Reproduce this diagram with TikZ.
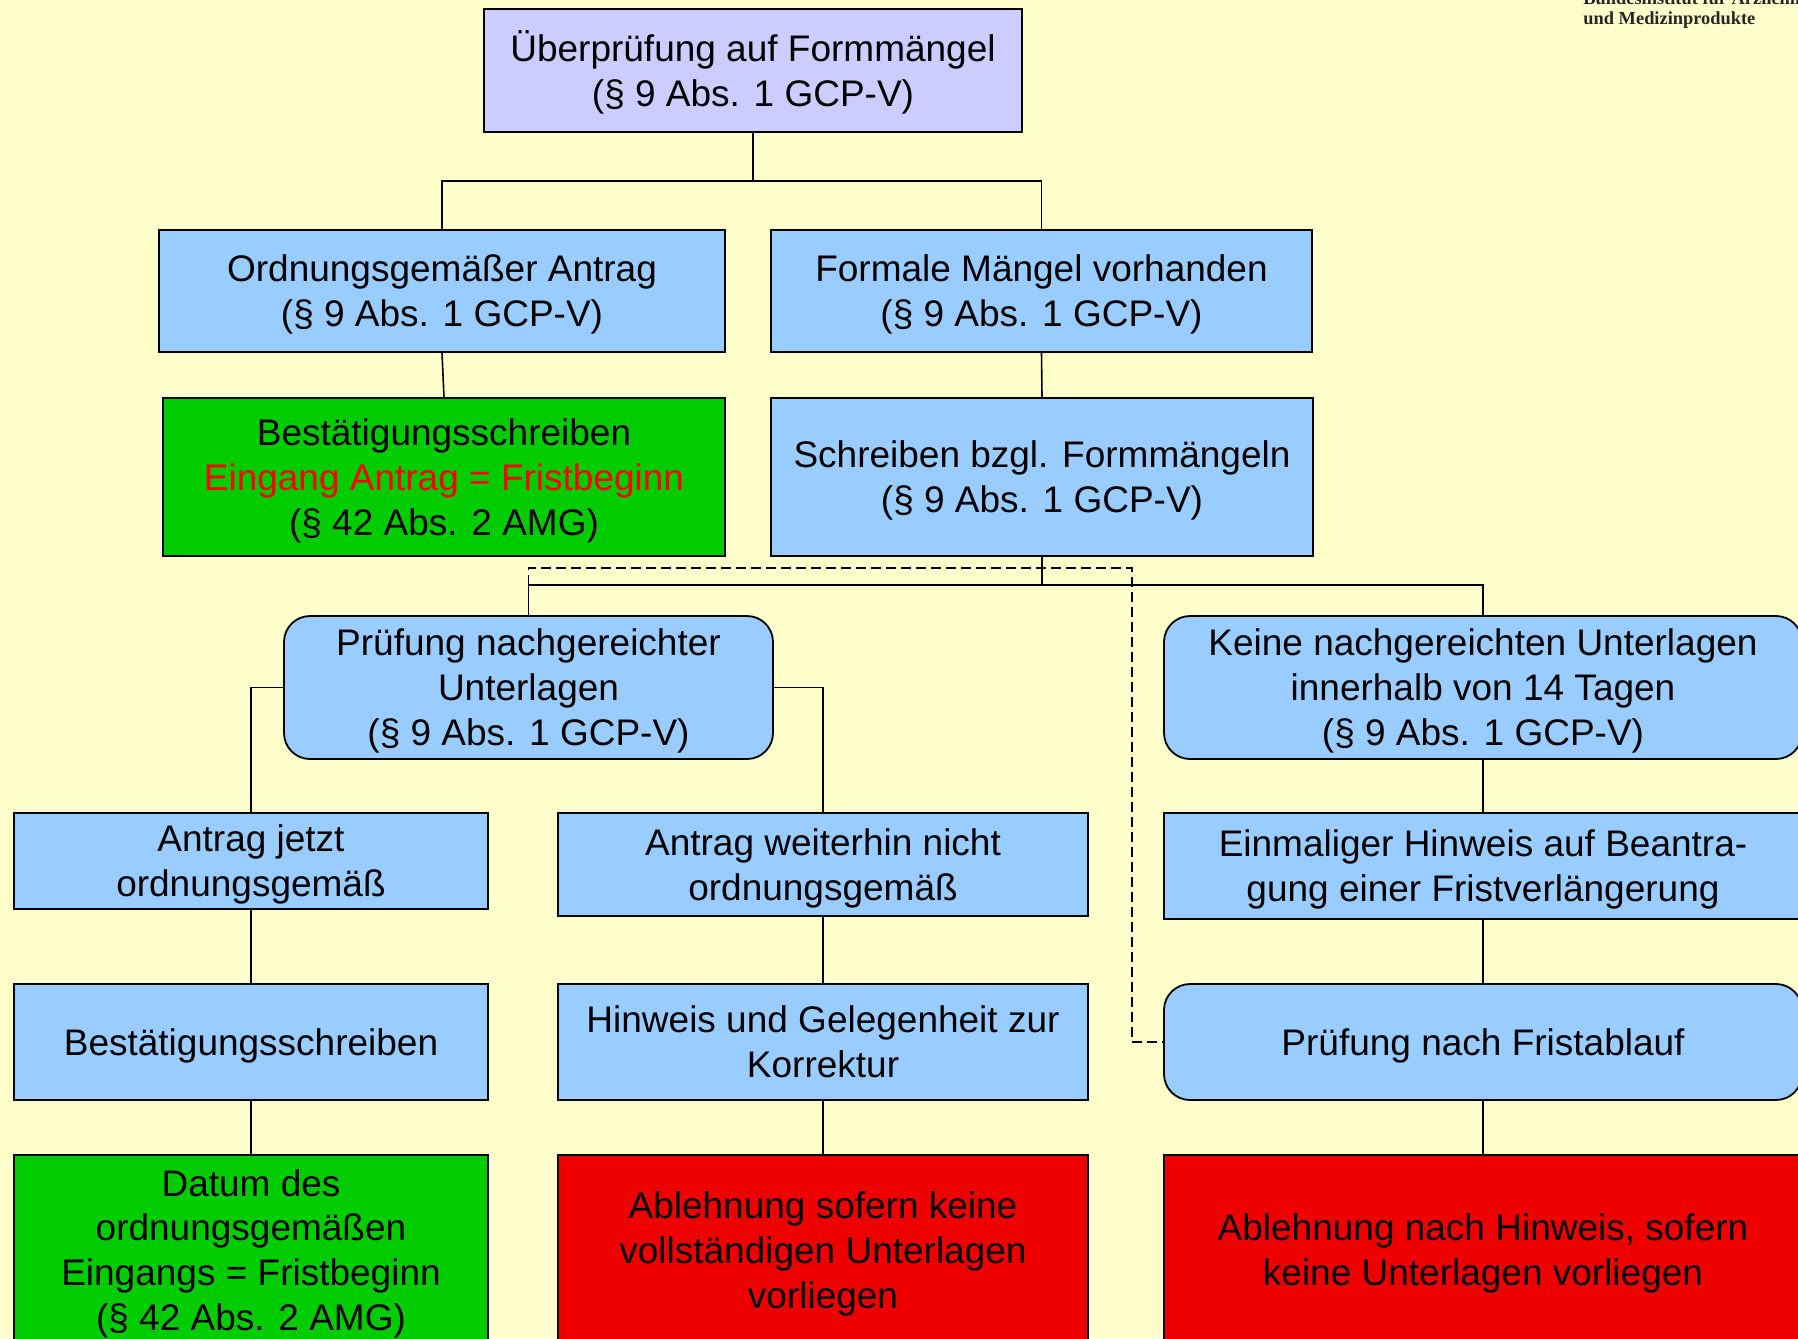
\documentclass[tikz,border=0pt]{standalone}
\usepackage{fontspec}
\setmainfont{Liberation Sans}
\newfontfamily\hdrfont{Liberation Serif}
\definecolor{bgyellow}{HTML}{FFFFCC}
\definecolor{boxblue}{HTML}{99CCFF}
\definecolor{boxlav}{HTML}{CCCCFF}
\definecolor{boxgreen}{HTML}{00CC00}
\definecolor{boxred}{HTML}{EE0000}
\definecolor{txtred}{HTML}{FF0000}
% struts on the first and last line keep the capital band centred in a box
\newcommand\bx[1]{\rule{0pt}{17.85pt}#1\rule[-4.6pt]{0pt}{0pt}}
\begin{document}
\begin{tikzpicture}[x=0.5pt,y=-0.5pt,
  box/.style={draw=black, line width=0.9pt, align=center, inner sep=0pt,
    font=\fontsize{18.5}{22.4}\selectfont, text=black},
  sz/.style 2 args={minimum width=#1*0.5pt, minimum height=#2*0.5pt},
  bluebox/.style={box, fill=boxblue},
  lavbox/.style={box, fill=boxlav},
  greenbox/.style={box, fill=boxgreen},
  redbox/.style={box, fill=boxred},
  roundbox/.style={box, fill=boxblue, rounded corners=13pt},
  link/.style={draw=black, line width=0.8pt},
  dlink/.style={draw=black, line width=0.8pt, dash pattern=on 5pt off 2.5pt},
  hdr/.style={anchor=base west, inner sep=0pt, font=\hdrfont\bfseries\fontsize{9.2}{10.5}\selectfont, text=black!85}
]
\useasboundingbox (0,0) rectangle (1798,1338);
\clip (0,0) rectangle (1798,1338);
\fill[bgyellow] (0,0) rectangle (1798,1338);

% institute heading
\node[hdr] (h1) at (1583,5) {Bundesinstitut für Arzneimittel};
\node[hdr] (h2) at (1583,25) {und Medizinprodukte};

% boxes
\node[lavbox, sz={538}{123}] (top) at (753,70.5) {\bx{Überprüfung auf Formmängel\\(§ 9 Abs. 1 GCP-V)}};

\node[bluebox, sz={566}{122}] (ok) at (442,291) {\bx{Ordnungsgemäßer Antrag\\(§ 9 Abs. 1 GCP-V)}};
\node[bluebox, sz={541}{122}] (fm) at (1041.5,291) {\bx{Formale Mängel vorhanden\\(§ 9 Abs. 1 GCP-V)}};

\node[greenbox, sz={562}{158}] (conf) at (444,477) {\bx{Bestätigungsschreiben\\\textcolor{txtred}{Eingang Antrag = Fristbeginn}\\(§ 42 Abs. 2 AMG)}};
\node[bluebox, sz={542}{158}] (letter) at (1042,477) {\bx{Schreiben bzgl. Formmängeln\\(§ 9 Abs. 1 GCP-V)}};

\node[roundbox, sz={489}{143}] (check) at (528.5,687.5) {\bx{Prüfung nachgereichter\\Unterlagen\\(§ 9 Abs. 1 GCP-V)}};
\node[roundbox, sz={638}{143}] (none) at (1483,687.5) {\bx{Keine nachgereichten Unterlagen\\innerhalb von 14 Tagen\\(§ 9 Abs. 1 GCP-V)}};

\node[bluebox, sz={474}{96}] (nowok) at (251,861) {\bx{Antrag jetzt\\ordnungsgemäß}};
\node[bluebox, sz={530}{103}] (stillbad) at (823,864.5) {\bx{Antrag weiterhin nicht\\ordnungsgemäß}};
\node[bluebox, sz={638}{106}] (hint) at (1483,866) {\bx{Einmaliger Hinweis auf Beantra-\\gung einer Fristverlängerung}};

\node[bluebox, sz={474}{116}] (conf2) at (251,1042) {\bx{Bestätigungsschreiben}};
\node[bluebox, sz={530}{116}] (fix) at (823,1042) {\bx{Hinweis und Gelegenheit zur\\Korrektur}};
\node[roundbox, sz={638}{116}] (after) at (1483,1042) {\bx{Prüfung nach Fristablauf}};

\node[greenbox, sz={474}{190}] (date) at (251,1250) {\bx{Datum des\\ordnungsgemäßen\\Eingangs = Fristbeginn\\(§ 42 Abs. 2 AMG)}};
\node[redbox, sz={530}{190}] (rej1) at (823,1250) {\bx{Ablehnung sofern keine\\vollständigen Unterlagen\\vorliegen}};
\node[redbox, sz={638}{190}] (rej2) at (1483,1250) {\bx{Ablehnung nach Hinweis, sofern\\keine Unterlagen vorliegen}};

% junction points
\coordinate (j1) at (753,181);
\coordinate (j2) at (1042,585);
\coordinate (dj) at (1132,568);

% connectors
\draw[link] (top.south) -- (j1);
\draw[link] (ok.north) |- (j1) -| (fm.north);
\draw[link] (ok.south) -- (conf.north);
\draw[link] (fm.south) -- (letter.north);
\draw[link] (letter.south) -- (j2);
\draw[link] (check.north) |- (j2) -| (none.north);
\draw[dlink] (check.north) |- (dj) |- (after.west);
\draw[link] (check.west) -| (nowok.north);
\draw[link] (check.east) -| (stillbad.north);
\draw[link] (none.south) -- (hint.north);
\draw[link] (nowok.south) -- (conf2.north);
\draw[link] (conf2.south) -- (date.north);
\draw[link] (stillbad.south) -- (fix.north);
\draw[link] (fix.south) -- (rej1.north);
\draw[link] (hint.south) -- (after.north);
\draw[link] (after.south) -- (rej2.north);
\end{tikzpicture}
\end{document}
